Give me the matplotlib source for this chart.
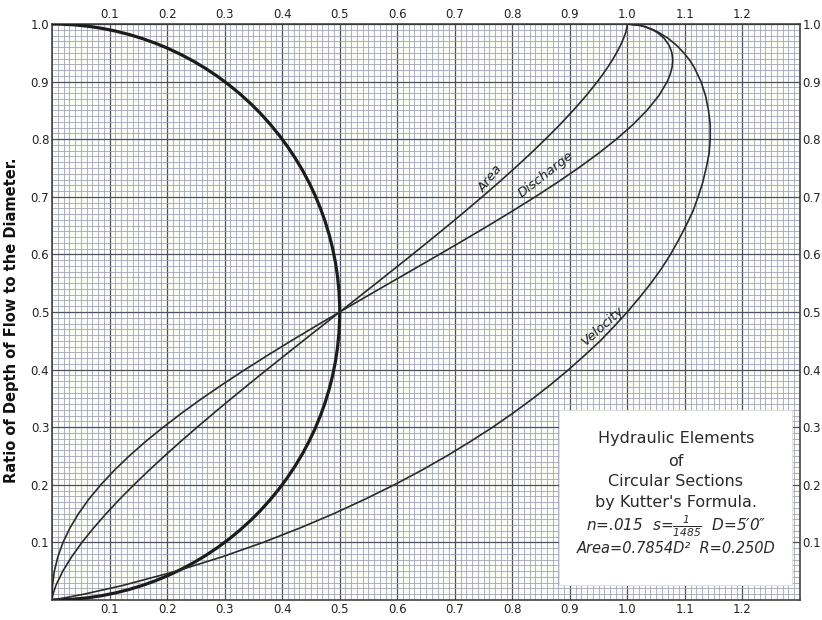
import matplotlib
matplotlib.use("Agg")
import matplotlib.pyplot as plt
from matplotlib.ticker import MultipleLocator
from matplotlib.patches import Rectangle, Arc

# Ratio of depth of flow to the diameter
depth = [0.0, 0.005, 0.01, 0.025, 0.05, 0.075, 0.1, 0.125, 0.15, 0.175,
         0.2, 0.225, 0.25, 0.275, 0.3, 0.325, 0.35, 0.375, 0.4, 0.425,
         0.45, 0.475, 0.5, 0.525, 0.55, 0.575, 0.6, 0.625, 0.65, 0.675,
         0.7, 0.725, 0.75, 0.775, 0.8, 0.825, 0.85, 0.875, 0.9, 0.9125,
         0.925, 0.9375, 0.95, 0.9625, 0.975, 0.985, 0.99, 0.995, 0.9975, 1.0]

# Ratios of each element to its value at full section
area = [0.0, 0.0006, 0.0017, 0.0066, 0.0187, 0.0341, 0.0520, 0.0722, 0.0941,
        0.1175, 0.1424, 0.1684, 0.1955, 0.2235, 0.2523, 0.2818, 0.3119,
        0.3425, 0.3735, 0.4049, 0.4364, 0.4682, 0.5, 0.5318, 0.5636, 0.5951,
        0.6265, 0.6575, 0.6881, 0.7182, 0.7477, 0.7765, 0.8045, 0.8316,
        0.8576, 0.8825, 0.9059, 0.9279, 0.9480, 0.9572, 0.9659, 0.9740,
        0.9813, 0.9878, 0.9934, 0.9971, 0.9983, 0.9994, 0.9998, 1.0]
velocity = [0.0, 0.029, 0.055, 0.122, 0.216, 0.296, 0.367, 0.431, 0.490,
            0.544, 0.595, 0.642, 0.686, 0.727, 0.766, 0.802, 0.836, 0.868,
            0.898, 0.926, 0.953, 0.977, 1.0, 1.021, 1.041, 1.059, 1.075,
            1.089, 1.102, 1.114, 1.123, 1.131, 1.137, 1.142, 1.144, 1.144,
            1.141, 1.136, 1.128, 1.122, 1.116, 1.108, 1.098, 1.086, 1.071,
            1.055, 1.045, 1.032, 1.022, 1.0]
discharge = [0.0, 0.00002, 0.0001, 0.0008, 0.0040, 0.0101, 0.0191, 0.0311,
             0.0461, 0.0640, 0.0847, 0.1081, 0.1341, 0.1625, 0.1933, 0.2261,
             0.2608, 0.2974, 0.3355, 0.3751, 0.4158, 0.4575, 0.5, 0.5431,
             0.5865, 0.6300, 0.6733, 0.7162, 0.7585, 0.7998, 0.8399, 0.8784,
             0.9150, 0.9493, 0.9809, 1.0093, 1.0340, 1.0543, 1.0693, 1.0744,
             1.0777, 1.0788, 1.0774, 1.0728, 1.0640, 1.0523, 1.0434, 1.0312,
             1.0222, 1.0]

# Outline of the circular section: centre on the left axis at mid depth
section_centre = (0.0, 0.5)
section_radius = 0.5

x_ticks = [0.1, 0.2, 0.3, 0.4, 0.5, 0.6, 0.7, 0.8, 0.9, 1.0, 1.1, 1.2]
x_labels = ["0.1", "0.2", "0.3", "0.4", "0.5", "0.6", "0.7", "0.8", "0.9",
            "1.0", "1.1", "1.2"]
y_ticks = [0.1, 0.2, 0.3, 0.4, 0.5, 0.6, 0.7, 0.8, 0.9, 1.0]
y_labels = ["0.1", "0.2", "0.3", "0.4", "0.5", "0.6", "0.7", "0.8", "0.9", "1.0"]

plt.rcParams["mathtext.fontset"] = "custom"
plt.rcParams["mathtext.rm"] = "DejaVu Sans:italic"
plt.rcParams["mathtext.it"] = "DejaVu Sans:italic"

fig = plt.figure(figsize=(8.22, 6.2), dpi=100)
fig.patch.set_facecolor("white")
ax = fig.add_axes([0.0633, 0.0323, 0.9099, 0.929])
ax.set_facecolor("#fbfbf7")
ax.set_xlim(0, 1.3)
ax.set_ylim(0, 1.0)

# cross-section paper
ax.xaxis.set_minor_locator(MultipleLocator(0.01))
ax.yaxis.set_minor_locator(MultipleLocator(0.01))
ax.set_xticks(x_ticks)
ax.set_xticklabels(x_labels)
ax.set_yticks(y_ticks)
ax.set_yticklabels(y_labels)
ax.grid(which="minor", color="#9a9eb2", linewidth=0.55, zorder=0)
ax.grid(which="major", color="#4e5060", linewidth=0.9, zorder=0)
ax.set_axisbelow(True)
ax.tick_params(which="both", length=0, top=True, right=True,
               labeltop=True, labelright=True, labelsize=8.5,
               colors="#222222", pad=2)
for sp in ax.spines.values():
    sp.set_color("#333333")
    sp.set_linewidth(1.1)

ax.add_patch(Arc(section_centre, 2 * section_radius, 2 * section_radius,
                 theta1=-90, theta2=90, color="#1c1c1c", linewidth=2.3,
                 zorder=3))
line_kw = dict(color="#2a2a2a", linewidth=1.2, zorder=3)
ax.plot(area, depth, **line_kw)
ax.plot(discharge, depth, **line_kw)
ax.plot(velocity, depth, **line_kw)

ax.text(0.762, 0.732, "Area", rotation=52, style="italic", fontsize=9.5,
        ha="center", va="center", color="#222222", zorder=4)
ax.text(0.858, 0.738, "Discharge", rotation=38, style="italic", fontsize=9.5,
        ha="center", va="center", color="#222222", zorder=4)
ax.text(0.958, 0.476, "Velocity", rotation=42, style="italic", fontsize=9.5,
        ha="center", va="center", color="#222222", zorder=4)

# title block
ax.add_patch(Rectangle((0.882, 0.026), 0.405, 0.304, facecolor="white",
                       edgecolor="#dddddd", linewidth=0.6, zorder=4))
cx = 1.0845
tk = dict(ha="center", va="center", fontsize=11.5, color="#2a2a2a", zorder=5)
ax.text(cx, 0.281, "Hydraulic Elements", **tk)
ax.text(cx, 0.240, "of", **tk)
ax.text(cx, 0.205, "Circular Sections", **tk)
ax.text(cx, 0.170, "by Kutter's Formula.", **tk)
ax.text(cx, 0.128, "n=.015  s=$\\frac{1}{1485}$  D=5\u20320\u2033", style="italic",
        ha="center", va="center", fontsize=11, color="#2a2a2a", zorder=5)
ax.text(cx, 0.089, "Area=0.7854D\u00b2  R=0.250D", style="italic",
        ha="center", va="center", fontsize=10.5, color="#2a2a2a", zorder=5)

fig.text(0.0145, 0.484, "Ratio of Depth of Flow to the Diameter.", rotation=90,
         ha="center", va="center", fontsize=10.5, fontweight="bold",
         color="#111111")

fig.savefig("out.png", dpi=100, facecolor="white")
